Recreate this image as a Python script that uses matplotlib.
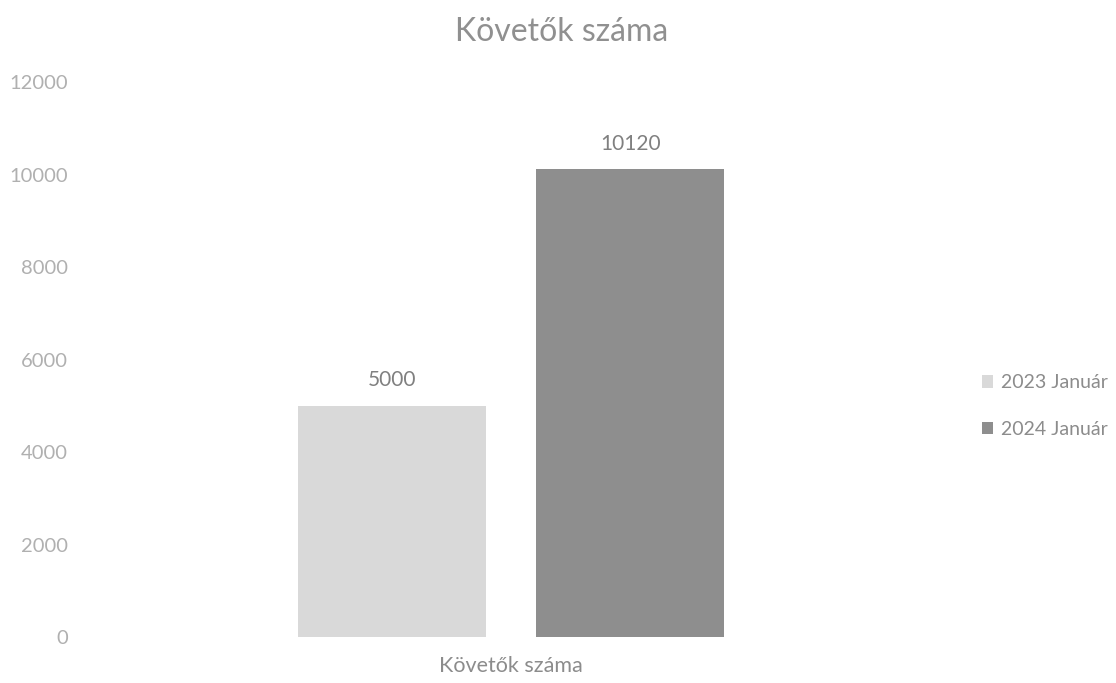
import matplotlib
matplotlib.use("Agg")
import matplotlib.pyplot as plt
from matplotlib.patches import Patch

# adatok
category = "Követők száma"
series = ["2023 Január", "2024 Január"]
values = [5000, 10120]
colors = ["#d9d9d9", "#8e8e8e"]
yticks = [0, 2000, 4000, 6000, 8000, 10000, 12000]

plt.rcParams['font.family'] = ['Lato', 'DejaVu Sans']

fig = plt.figure(figsize=(11.16, 6.83), dpi=100)
ax = fig.add_axes([100 / 1116, 1 - 637 / 683, 822 / 1116, (637 - 82) / 683])

width = 0.229
offsets = [-0.145, 0.145]
for off, v, c, name in zip(offsets, values, colors, series):
    ax.bar(off, v, width=width, color=c, label=name)
    ax.annotate(str(v), (off, v), xytext=(0, 11), textcoords="offset points",
                ha="center", va="bottom", fontsize=15, color="#808080")

ax.set_xlim(-0.5, 0.5)
ax.set_ylim(0, 12000)
ax.set_yticks(yticks)
ax.set_yticklabels([str(t) for t in yticks])
ax.set_xticks([0])
ax.set_xticklabels([category])
ax.tick_params(axis="y", length=0, pad=23, labelsize=14.5, labelcolor="#b0b0b0")
ax.tick_params(axis="x", length=0, pad=14, labelsize=15.5, labelcolor="#8c8c8c")
for s in ax.spines.values():
    s.set_visible(False)

fig.text(562 / 1116, 1 - 32 / 683, category, ha="center", va="center",
         fontsize=23, color="#909090")

handles = [Patch(facecolor=c, label=n) for c, n in zip(colors, series)]
fig.legend(handles=handles, loc="center left", bbox_to_anchor=(964 / 1116, 1 - 406 / 683),
           frameon=False, fontsize=14, labelcolor="#8c8c8c",
           handlelength=0.6, handleheight=0.6, handletextpad=0.4, labelspacing=1.5)

fig.savefig("out.png", dpi=100, facecolor="white")
